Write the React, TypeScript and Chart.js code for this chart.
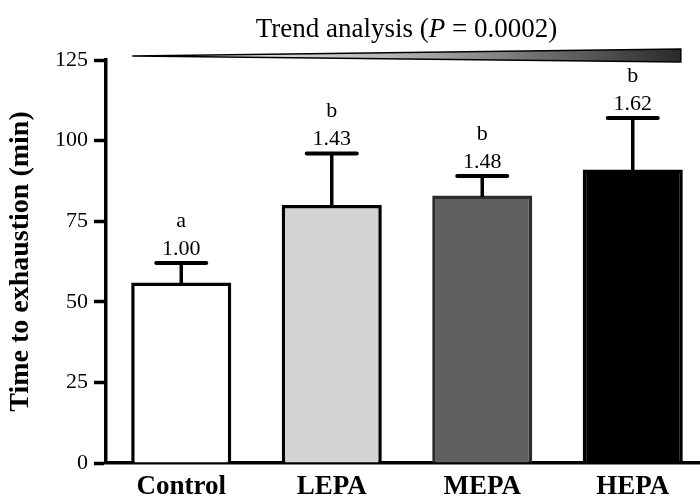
import React, { useEffect, useRef } from 'react';
import { Chart, registerables } from 'chart.js';

Chart.register(...registerables);

const categories = ['Control', 'LEPA', 'MEPA', 'HEPA'];
const means = [56, 80, 83, 91];
const errors = [6, 16, 6, 16];
const letters = ['a', 'b', 'b', 'b'];
const ratios = ['1.00', '1.43', '1.48', '1.62'];
const yTickValues = [0, 25, 50, 75, 100, 125];
const fills = ['#ffffff', '#d3d3d3', '#606060', '#000000'];
const borders = ['#000000', '#000000', '#2e2e2e', '#000000'];
const trendParts = ['Trend analysis (', 'P', ' = 0.0002)'];
const yTitle = 'Time to exhaustion (min)';

const SERIF = '"Liberation Serif", "Times New Roman", serif';

const annotatePlugin = {
  id: 'annotate',
  afterDatasetsDraw(chart: any) {
    const ctx = chart.ctx;
    const meta = chart.getDatasetMeta(0);
    const y = chart.scales.y;
    ctx.save();
    meta.data.forEach((bar: any, i: number) => {
      const x = bar.x;
      const yTop = y.getPixelForValue(means[i]);
      const yCap = y.getPixelForValue(means[i] + errors[i]);
      ctx.strokeStyle = '#000';
      ctx.lineWidth = 3.5;
      ctx.lineCap = 'round';
      ctx.beginPath();
      ctx.moveTo(x, yTop);
      ctx.lineTo(x, yCap);
      ctx.stroke();
      ctx.lineWidth = 4;
      ctx.beginPath();
      ctx.moveTo(x - 25, yCap);
      ctx.lineTo(x + 25, yCap);
      ctx.stroke();
      ctx.fillStyle = '#000';
      ctx.font = `22px ${SERIF}`;
      ctx.textAlign = 'center';
      ctx.textBaseline = 'alphabetic';
      ctx.fillText(ratios[i], x, yCap - 8);
      ctx.fillText(letters[i], x, yCap - 36);
    });

    // trend wedge
    const first = meta.data[0];
    const last = meta.data[meta.data.length - 1];
    const left = first.x - first.width / 2 + 1;
    const right = last.x + last.width / 2 - 2;
    const top = chart.chartArea.top;
    const tipY = top - 4;
    const rTop = top - 11;
    const rBot = top + 2;
    const grad = ctx.createLinearGradient(left, 0, right, 0);
    grad.addColorStop(0, '#ffffff');
    grad.addColorStop(0.5, '#b0b0b0');
    grad.addColorStop(1, '#2a2a2a');
    ctx.beginPath();
    ctx.moveTo(left, tipY);
    ctx.lineTo(right, rTop);
    ctx.lineTo(right, rBot);
    ctx.closePath();
    ctx.fillStyle = grad;
    ctx.fill();
    ctx.strokeStyle = '#000';
    ctx.lineWidth = 1.5;
    ctx.lineJoin = 'miter';
    ctx.stroke();

    // title
    const cx = (left + right) / 2;
    const regular = `27px ${SERIF}`;
    const italic = `italic 27px ${SERIF}`;
    ctx.font = regular;
    const w0 = ctx.measureText(trendParts[0]).width;
    const w2 = ctx.measureText(trendParts[2]).width;
    ctx.font = italic;
    const w1 = ctx.measureText(trendParts[1]).width;
    let sx = cx - (w0 + w1 + w2) / 2;
    ctx.textAlign = 'left';
    ctx.textBaseline = 'alphabetic';
    ctx.fillStyle = '#000';
    const by = 37;
    ctx.font = regular;
    ctx.fillText(trendParts[0], sx, by);
    sx += w0;
    ctx.font = italic;
    ctx.fillText(trendParts[1], sx, by);
    sx += w1;
    ctx.font = regular;
    ctx.fillText(trendParts[2], sx, by);
    ctx.restore();
  },
};

export default function App() {
  const ref = useRef<HTMLCanvasElement | null>(null);
  useEffect(() => {
    if (!ref.current) return;
    const chart = new Chart(ref.current, {
      type: 'bar',
      data: {
        labels: categories,
        datasets: [
          {
            data: means,
            backgroundColor: fills,
            borderColor: borders,
            borderWidth: 3.5,
            barPercentage: 0.665,
            categoryPercentage: 1,
          },
        ],
      },
      options: {
        responsive: false,
        animation: false,
        layout: { padding: { top: 60, right: 12, left: 0, bottom: 0 } },
        plugins: {
          legend: { display: false },
          tooltip: { enabled: false },
          title: { display: false },
        },
        scales: {
          x: {
            offset: true,
            grid: { display: false, drawTicks: false, tickLength: 0 },
            border: { display: true, color: '#000', width: 3.5 },
            ticks: {
              color: '#000',
              padding: 8,
              font: { family: SERIF, size: 27, weight: 'bold' },
            },
            afterFit: (s: any) => {
              s.height = 34;
            },
          },
          y: {
            min: 0,
            max: 125,
            afterBuildTicks: (s: any) => {
              s.ticks = yTickValues.map((v) => ({ value: v }));
            },
            grid: {
              drawOnChartArea: false,
              drawTicks: true,
              tickLength: 12,
              tickWidth: 3.5,
              tickColor: '#000',
            },
            border: { display: true, color: '#000', width: 3.5 },
            ticks: {
              color: '#000',
              padding: 6,
              font: { family: SERIF, size: 22 },
            },
            title: {
              display: true,
              text: yTitle,
              color: '#000',
              padding: { top: 4, bottom: 0 },
              font: { family: SERIF, size: 28, weight: 'bold' },
            },
            afterFit: (s: any) => {
              s.width = 106;
            },
          },
        },
      },
      plugins: [annotatePlugin],
    } as any);
    return () => chart.destroy();
  }, []);
  return (
    <div style={{ position: 'fixed', left: 0, top: 0, width: 700, height: 497, overflow: 'hidden', background: '#fff' }}>
      <canvas ref={ref} width={720} height={497} style={{ width: 720, height: 497, display: 'block' }} />
    </div>
  );
}
